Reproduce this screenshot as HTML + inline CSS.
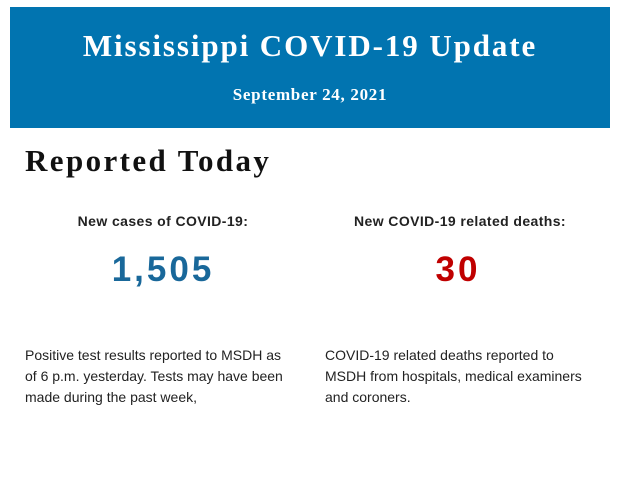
<!DOCTYPE html>
<html><head><meta charset="utf-8"><style>
body{margin:0;width:620px;height:483px;background:#fff;position:relative;overflow:hidden;font-family:"Liberation Sans",sans-serif;}
.hdr{position:absolute;left:10px;top:7px;width:600px;height:121px;background:#0174b0;color:#fff;font-family:"Liberation Serif",serif;font-weight:bold;text-align:center;}
.t{position:absolute;left:0;right:0;top:21px;font-size:31px;letter-spacing:1.9px;}
.d{position:absolute;left:0;right:0;top:78px;font-size:17px;letter-spacing:0.7px;}
.rt{position:absolute;left:25px;top:143px;font-family:"Liberation Serif",serif;font-weight:bold;font-size:31px;color:#111;letter-spacing:2.4px;}
.lab{position:absolute;top:213px;width:300px;text-align:center;font-weight:bold;font-size:14px;color:#222;letter-spacing:0.4px;}
.num{position:absolute;top:250px;width:300px;text-align:center;font-weight:bold;font-size:35px;letter-spacing:3px;}
.p{position:absolute;top:345px;width:262px;font-size:14px;line-height:21px;color:#222;}
</style></head><body>
<div class="hdr"><div class="t">Mississippi COVID-19 Update</div><div class="d">September 24, 2021</div></div>
<div class="rt">Reported Today</div>
<div class="lab" style="left:13px">New cases of COVID-19:</div>
<div class="lab" style="left:310px">New COVID-19 related deaths:</div>
<div class="num" style="left:13px;color:#19689a">1,505</div>
<div class="num" style="left:308px;color:#c00000">30</div>
<div class="p" style="left:25px">Positive test results reported to MSDH as of 6 p.m. yesterday. Tests may have been made during the past week,</div>
<div class="p" style="left:325px;width:270px">COVID-19 related deaths reported to MSDH from hospitals, medical examiners and coroners.</div>
</body></html>
